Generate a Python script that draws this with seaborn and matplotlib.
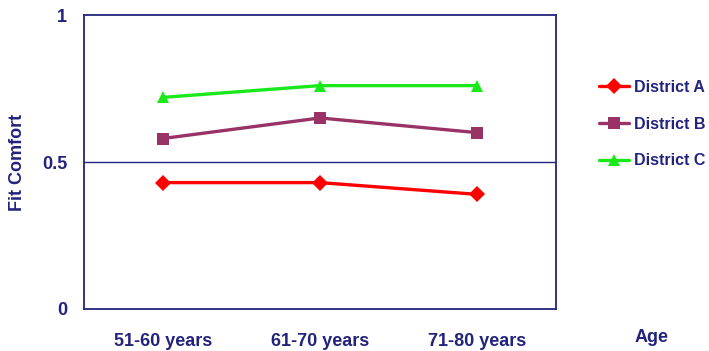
import pandas as pd
import numpy as np
import matplotlib
matplotlib.use("Agg")
import matplotlib.pyplot as plt
import seaborn as sns

# data
ages = ["51-60 years", "61-70 years", "71-80 years"]
district_a = [0.43, 0.43, 0.39]
district_b = [0.58, 0.65, 0.60]
district_c = [0.72, 0.76, 0.76]
districts = ["District A", "District B", "District C"]

df = pd.DataFrame({
    "Age": ages * 3,
    "Fit Comfort": district_a + district_b + district_c,
    "District": [d for d in districts for _ in ages],
})

navy = "#23237e"
colors = {"District A": "#ff0000", "District B": "#993366", "District C": "#1be81b"}
markers = {"District A": "D", "District B": "s", "District C": "^"}

sns.set_style("white")
plt.rcParams["font.family"] = ["Liberation Sans", "DejaVu Sans"]
plt.rcParams["font.weight"] = "bold"

fig = plt.figure(figsize=(7.09, 3.51), dpi=100)
ax = fig.add_axes([0.1185, 0.1197, 0.784 - 0.1185, 0.957 - 0.1197])

sns.lineplot(data=df, x="Age", y="Fit Comfort", hue="District", style="District",
             palette=colors, markers=markers, dashes=False, linewidth=2.4,
             markersize=8, markeredgewidth=0, sort=False, ax=ax)

ax.set_xlim(-0.5, 2.5)
ax.set_ylim(0, 1)
ax.set_yticks([0, 0.5, 1])
ax.set_yticklabels(["0", "0.5", "1"])
ax.set_xticks(range(len(ages)))
ax.set_xticklabels(ages)
ax.set_xticks([0.5, 1.5], minor=True)
ax.tick_params(axis="x", which="major", length=0, pad=17, labelsize=13, labelcolor=navy)
ax.tick_params(axis="x", which="minor", length=5, width=1.2, color=navy, direction="in")
ax.tick_params(axis="y", length=6, width=1.2, color=navy, labelsize=13, labelcolor=navy, pad=6)
ax.axhline(0.5, color=navy, linewidth=1, zorder=0)

for s in ax.spines.values():
    s.set_color(navy)
    s.set_linewidth(1.3)

ax.set_xlabel("")
ax.set_ylabel("")
fig.text(18 / 709, 0.538, "Fit Comfort", rotation=90, color=navy, fontsize=13,
         fontweight="bold", ha="center", va="center")
fig.text(652 / 709, 1 - 338 / 351, "Age", color=navy, fontsize=13, fontweight="bold",
         ha="center", va="center")

leg = ax.legend(loc="upper left", bbox_to_anchor=(1.06, 0.828), frameon=False,
                handlelength=1.9, handletextpad=0.3, labelspacing=1.35,
                prop={"size": 11.5, "weight": "bold"})
for t in leg.get_texts():
    t.set_color(navy)

fig.savefig("out.png", dpi=100)
